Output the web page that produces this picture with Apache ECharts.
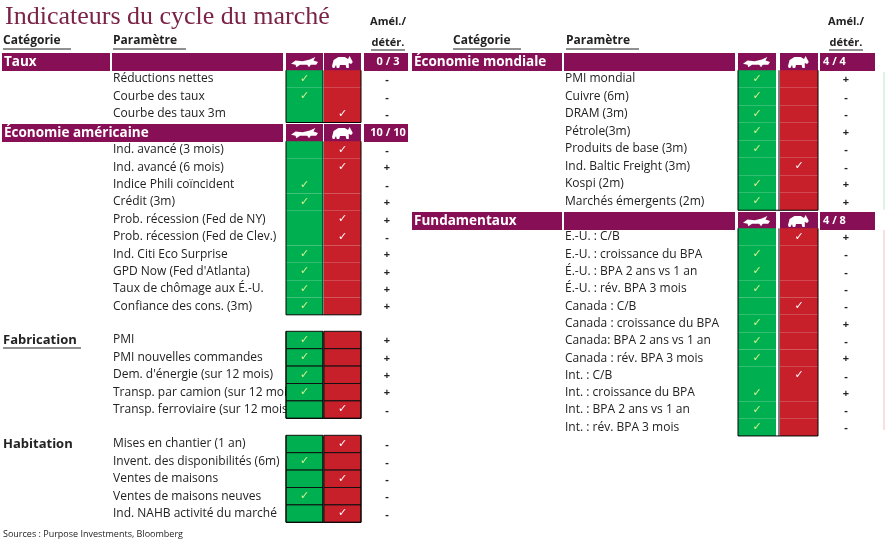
<!DOCTYPE html>
<html><head><meta charset="utf-8">
<script src="https://cdn.jsdelivr.net/npm/echarts@6/dist/echarts.min.js"></script>
<style>html,body{margin:0;padding:0;background:#fff}#c{width:886px;height:545px}</style>
</head><body><div id="c"></div>
<script>
// ---- data ----
const tauxParams = ["Réductions nettes","Courbe des taux","Courbe des taux 3m"];
const tauxSignal = [1,1,0];
const tauxChange = ["-","-","-"];
const usParams = ["Ind. avancé (3 mois)","Ind. avancé (6 mois)","Indice Phili coïncident","Crédit (3m)","Prob. récession (Fed de NY)","Prob. récession (Fed de Clev.)","Ind. Citi Eco Surprise","GPD Now (Fed d'Atlanta)","Taux de chômage aux É.-U.","Confiance des cons. (3m)"];
const usSignal = [0,0,1,1,0,0,1,1,1,1];
const usChange = ["-","+","-","+","+","-","+","+","+","+"];
const fabParams = ["PMI","PMI nouvelles commandes","Dem. d'énergie (sur 12 mois)","Transp. par camion (sur 12 mois)","Transp. ferroviaire (sur 12 mois)"];
const fabSignal = [1,1,1,1,0];
const fabChange = ["+","+","+","+","-"];
const habParams = ["Mises en chantier (1 an)","Invent. des disponibilités (6m)","Ventes de maisons","Ventes de maisons neuves","Ind. NAHB activité du marché"];
const habSignal = [0,1,0,1,0];
const habChange = ["-","-","-","-","-"];
const mondParams = ["PMI mondial","Cuivre (6m)","DRAM (3m)","Pétrole(3m)","Produits de base (3m)","Ind. Baltic Freight (3m)","Kospi (2m)","Marchés émergents (2m)"];
const mondSignal = [1,1,1,1,1,0,1,1];
const mondChange = ["+","-","-","+","-","-","+","+"];
const fundParams = ["E.-U. : C/B","E.-U. : croissance du BPA","É.-U. : BPA 2 ans vs 1 an","É.-U. : rév. BPA 3 mois","Canada : C/B","Canada : croissance du BPA","Canada: BPA 2 ans vs 1 an","Canada : rév. BPA 3 mois","Int. : C/B","Int. : croissance du BPA","Int. : BPA 2 ans vs 1 an","Int. : rév. BPA 3 mois"];
const fundSignal = [0,1,1,1,0,1,1,1,0,1,1,1];
const fundChange = ["+","-","-","-","-","+","-","+","-","+","-","-"];
const scores = {taux:"0 / 3", us:"10 / 10", mond:"4 / 4", fund:"4 / 8"};

// ---- drawing ----
const MAROON='#870f55', GREEN='#00b050', RED='#c8202a';
const FONT='"Open Sans", Lato, sans-serif';
const g=[];
const BULL=[[0,8],[5,4],[13,5],[21,3],[27,0],[25,4],[30,6],[28,9],[22,9],[20,12],[18,9],[10,9],[6,12],[5,9]];
const BEAR=[[0,10],[2,4],[8,1],[16,1],[20,3],[22,0],[24,3],[26,6],[24,8],[21,7],[21,12],[18,12],[17,9],[10,9],[9,12],[6,12],[5,9],[3,12],[1,12]];
function txt(x,y,s,o){g.push({type:'text',x:x,y:y,z:(o&&o.z)||5,style:Object.assign({text:s,fill:'#222',font:'12px '+FONT,textVerticalAlign:'middle'},o||{})});}
function rect(x,y,w,h,fill,stroke){g.push({type:'rect',shape:{x:x,y:y,width:w,height:h},style:{fill:fill,stroke:stroke||null,lineWidth:stroke?1:0},z:10});}
function line(x1,y1,x2,y2,c){g.push({type:'line',shape:{x1:x1,y1:y1,x2:x2,y2:y2},style:{stroke:c||'#000',lineWidth:1},z:12});}
function icon(pts,x,y,sx,sy){g.push({type:'polygon',shape:{points:pts.map(p=>[x+p[0]*sx,y+p[1]*sy])},style:{fill:'#fff'},z:12});}

function header(P,y,name,score,merged){
  if(merged) rect(P.cat,y,P.par+P.parW-P.cat,18,MAROON);
  else { rect(P.cat,y,P.catW,18,MAROON); rect(P.par,y,P.parW,18,MAROON); }
  rect(P.bull,y,P.cw,18,MAROON); rect(P.bear,y,P.cw,18,MAROON); rect(P.sc,y,P.scW,18,MAROON);
  txt(P.cat+2,y+9,name,{fill:'#fff',font:'bold 13.5px '+FONT,z:13});
  icon(BULL,P.bull+5,y+4,0.9,0.85); icon(BEAR,P.bear+8,y+3,0.8,1);
  txt(P.scX,y+9,score,{fill:'#fff',font:'bold 11px '+FONT,textAlign:P.scAlign,z:13});
}
function rows(P,y0,step,params,sig,chg,bordered){
  params.forEach((p,i)=>{
    const y=y0+i*step, top=y-step/2;
    txt(P.par+1,y,p,{font:'12px '+FONT});
    rect(P.bull,top,P.cw,step,GREEN,bordered?'#111':null);
    rect(P.bear,top,P.cw,step,RED,bordered?'#111':null);
    if(sig[i]) txt(P.bull+P.cw/2,y,'✓',{fill:'#d6f08a',font:'bold 11px "DejaVu Sans"',textAlign:'center',z:14});
    else txt(P.bear+P.cw/2,y,'✓',{fill:'#fff',font:'bold 11px "DejaVu Sans"',textAlign:'center',z:14});
    txt(P.chgX,y+1,chg[i],{font:'bold 11px '+FONT,textAlign:'center'});
  });
  const top=y0-step/2, h=params.length*step;
  line(P.bull,top,P.bull,top+h); line(P.bear-1,top,P.bear-1,top+h); line(P.bear+P.cw,top,P.bear+P.cw,top+h);
  line(P.bull,top+h,P.bear+P.cw,top+h);
}
const L={cat:2,catW:108,par:112,parW:171,bull:286,bear:324,cw:37,sc:364,scW:44,scX:388,scAlign:'center',chgX:387};
const R={cat:412,catW:150,par:564,parW:171,bull:738,bear:780,cw:38,sc:820,scW:55,scX:823,scAlign:'left',chgX:846};

txt(5,17,'Indicateurs du cycle du marché',{fill:'#7a2347',font:'26px "Liberation Serif", serif'});
[[370,388],[828,846]].forEach(([a,c])=>{
  txt(c,22,'Amél./',{font:'bold 11px '+FONT,textAlign:'center'});
  txt(c,43,'détér.',{font:'bold 11px '+FONT,textAlign:'center'}); line(c-17,50,c+17,50,'#222');
});
function uhead(x,y,s,w){txt(x,y,s,{font:'bold 12px '+FONT}); line(x,y+8,x+w,y+8,'#222');}
uhead(3,41,'Catégorie',68); uhead(113,41,'Paramètre',73); uhead(453,41,'Catégorie',68); uhead(566,41,'Paramètre',73);

header(L,53,'Taux',scores.taux); rows(L,79,17.4,tauxParams,tauxSignal,tauxChange,false);
header(L,124,'Économie américaine',scores.us,true); rows(L,150,17.35,usParams,usSignal,usChange,false);
txt(3,340,'Fabrication',{font:'bold 13px '+FONT}); line(3,348,81,348,'#222');
rows(L,340,17.4,fabParams,fabSignal,fabChange,true);
txt(3,444,'Habitation',{font:'bold 13px '+FONT});
rows(L,444,17.4,habParams,habSignal,habChange,true);
header(R,53,'Économie mondiale',scores.mond); rows(R,79,17.5,mondParams,mondSignal,mondChange,false);
header(R,212,'Fundamentaux',scores.fund); rows(R,237,17.3,fundParams,fundSignal,fundChange,false);
txt(3,534,'Sources : Purpose Investments, Bloomberg',{font:'9px '+FONT});
line(884,72,884,210,'#bfe8c4'); line(884,230,884,430,'#f3c0c0');

const chart=echarts.init(document.getElementById('c'));
chart.setOption({animation:false,graphic:{elements:g}});
</script></body></html>
